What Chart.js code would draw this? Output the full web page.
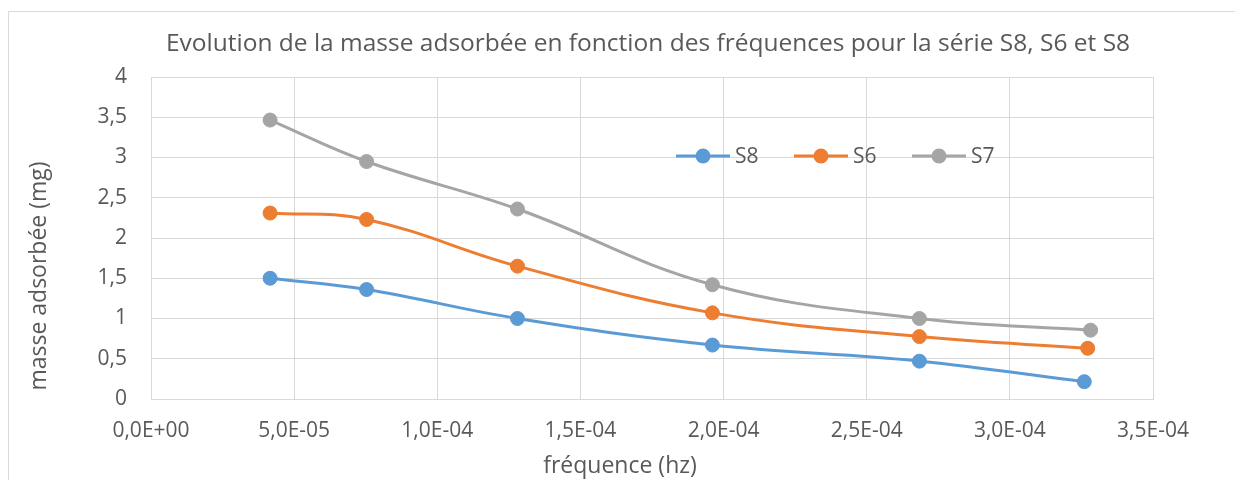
<!DOCTYPE html>
<html><head><meta charset="utf-8">
<script src="https://cdn.jsdelivr.net/npm/chart.js@4/dist/chart.umd.min.js"></script>
<style>html,body{margin:0;padding:0;background:#fff}#wrap{width:1235px;height:480px}</style>
</head><body><div id="wrap"><canvas id="c" width="1235" height="480"></canvas></div>
<script>
const chartTitle = 'Evolution de la masse adsorbée en fonction des fréquences pour la série S8, S6 et S8';
const xTitle = 'fréquence (hz)';
const yTitle = 'masse adsorbée (mg)';
const seriesNames = ['S8', 'S6', 'S7'];
const frequencesS8 = [4.16e-5, 7.53e-5, 1.28e-4, 1.961e-4, 2.684e-4, 3.26e-4];
const frequencesS6 = [4.16e-5, 7.53e-5, 1.28e-4, 1.961e-4, 2.684e-4, 3.272e-4];
const frequencesS7 = [4.16e-5, 7.53e-5, 1.28e-4, 1.961e-4, 2.684e-4, 3.282e-4];
const masseS8 = [1.50, 1.36, 1.00, 0.67, 0.47, 0.215];
const masseS6 = [2.31, 2.23, 1.65, 1.07, 0.775, 0.63];
const masseS7 = [3.465, 2.95, 2.36, 1.42, 1.00, 0.855];
const xTickMin = 0, xTickMax = 3.5e-4, xTickStep = 5e-5;
const yTickMin = 0, yTickMax = 4, yTickStep = 0.5;
const colors = ['#5B9BD5', '#ED7D31', '#A5A5A5'];

const FONT = "'Open Sans', 'Noto Sans', sans-serif";
const TXT = '#595959';
const GRID = '#D9D9D9';

function sciFr(v) {
  if (Math.abs(v) < 1e-12) return '0,0E+00';
  let [m, e] = v.toExponential(1).split('e');
  let n = parseInt(e, 10);
  let s = n < 0 ? '-' : '+';
  let a = Math.abs(n);
  return m.replace('.', ',') + 'E' + s + (a < 10 ? '0' + a : String(a));
}
function pts(xs, ys) { return xs.map((x, i) => ({x: x, y: ys[i]})); }

const xsets = [frequencesS8, frequencesS6, frequencesS7];
const ysets = [masseS8, masseS6, masseS7];
const datasets = seriesNames.map((name, i) => ({
  label: name,
  data: pts(xsets[i], ysets[i]),
  borderColor: colors[i],
  backgroundColor: colors[i],
  pointBackgroundColor: colors[i],
  pointBorderColor: colors[i],
  borderWidth: 3,
  pointRadius: 7,
  pointBorderWidth: 1,
  tension: 0.4,
  fill: false
}));

const decor = {
  id: 'decor',
  beforeDraw(chart) {
    const ctx = chart.ctx;
    ctx.save();
    ctx.fillStyle = '#fff';
    ctx.fillRect(0, 0, chart.width, chart.height);
    ctx.strokeStyle = GRID;
    ctx.lineWidth = 1;
    ctx.strokeRect(8.5, 11.5, 1240, 490);
    ctx.restore();
  },
  afterDraw(chart) {
    const ctx = chart.ctx;
    ctx.save();
    ctx.fillStyle = TXT;
    ctx.textBaseline = 'middle';
    ctx.textAlign = 'center';
    ctx.font = '24.5px ' + FONT;
    ctx.fillText(chartTitle, 648, 44);
    ctx.font = '23px ' + FONT;
    ctx.fillText(xTitle, 620, 466);
    ctx.save();
    ctx.translate(39, 276);
    ctx.rotate(-Math.PI / 2);
    ctx.font = '23px ' + FONT;
    ctx.fillText(yTitle, 0, 0);
    ctx.restore();
    // legend
    ctx.font = '21px ' + FONT;
    ctx.textAlign = 'left';
    chart.data.datasets.forEach((ds, i) => {
      const x0 = 676 + i * 118, y = 156;
      ctx.strokeStyle = ds.borderColor;
      ctx.lineWidth = 3;
      ctx.beginPath(); ctx.moveTo(x0, y); ctx.lineTo(x0 + 54, y); ctx.stroke();
      ctx.fillStyle = ds.borderColor;
      ctx.beginPath(); ctx.arc(x0 + 27, y, 7.5, 0, Math.PI * 2); ctx.fill();
      ctx.fillStyle = TXT;
      ctx.fillText(ds.label, x0 + 59, y + 1);
    });
    ctx.restore();
  }
};

new Chart(document.getElementById('c'), {
  type: 'line',
  data: { datasets },
  plugins: [decor],
  options: {
    responsive: false,
    animation: false,
    devicePixelRatio: 1,
    layout: { padding: { left: 0, right: 82, top: 77, bottom: 0 } },
    plugins: { legend: { display: false }, title: { display: false }, tooltip: { enabled: false } },
    scales: {
      x: {
        type: 'linear', min: xTickMin, max: xTickMax,
        afterFit(s) { s.height = 81; },
        ticks: { stepSize: xTickStep, color: TXT, font: { family: FONT, size: 21 }, padding: 19, maxRotation: 0, autoSkip: false,
          callback: v => sciFr(v) },
        grid: { color: GRID, lineWidth: 1, drawTicks: false },
        border: { color: GRID }
      },
      y: {
        type: 'linear', min: yTickMin, max: yTickMax,
        afterFit(s) { s.width = 151; },
        ticks: { stepSize: yTickStep, color: TXT, font: { family: FONT, size: 21 }, padding: 24,
          callback: v => String(v).replace('.', ',') },
        grid: { color: GRID, lineWidth: 1, drawTicks: false },
        border: { color: GRID }
      }
    }
  }
});
</script></body></html>
